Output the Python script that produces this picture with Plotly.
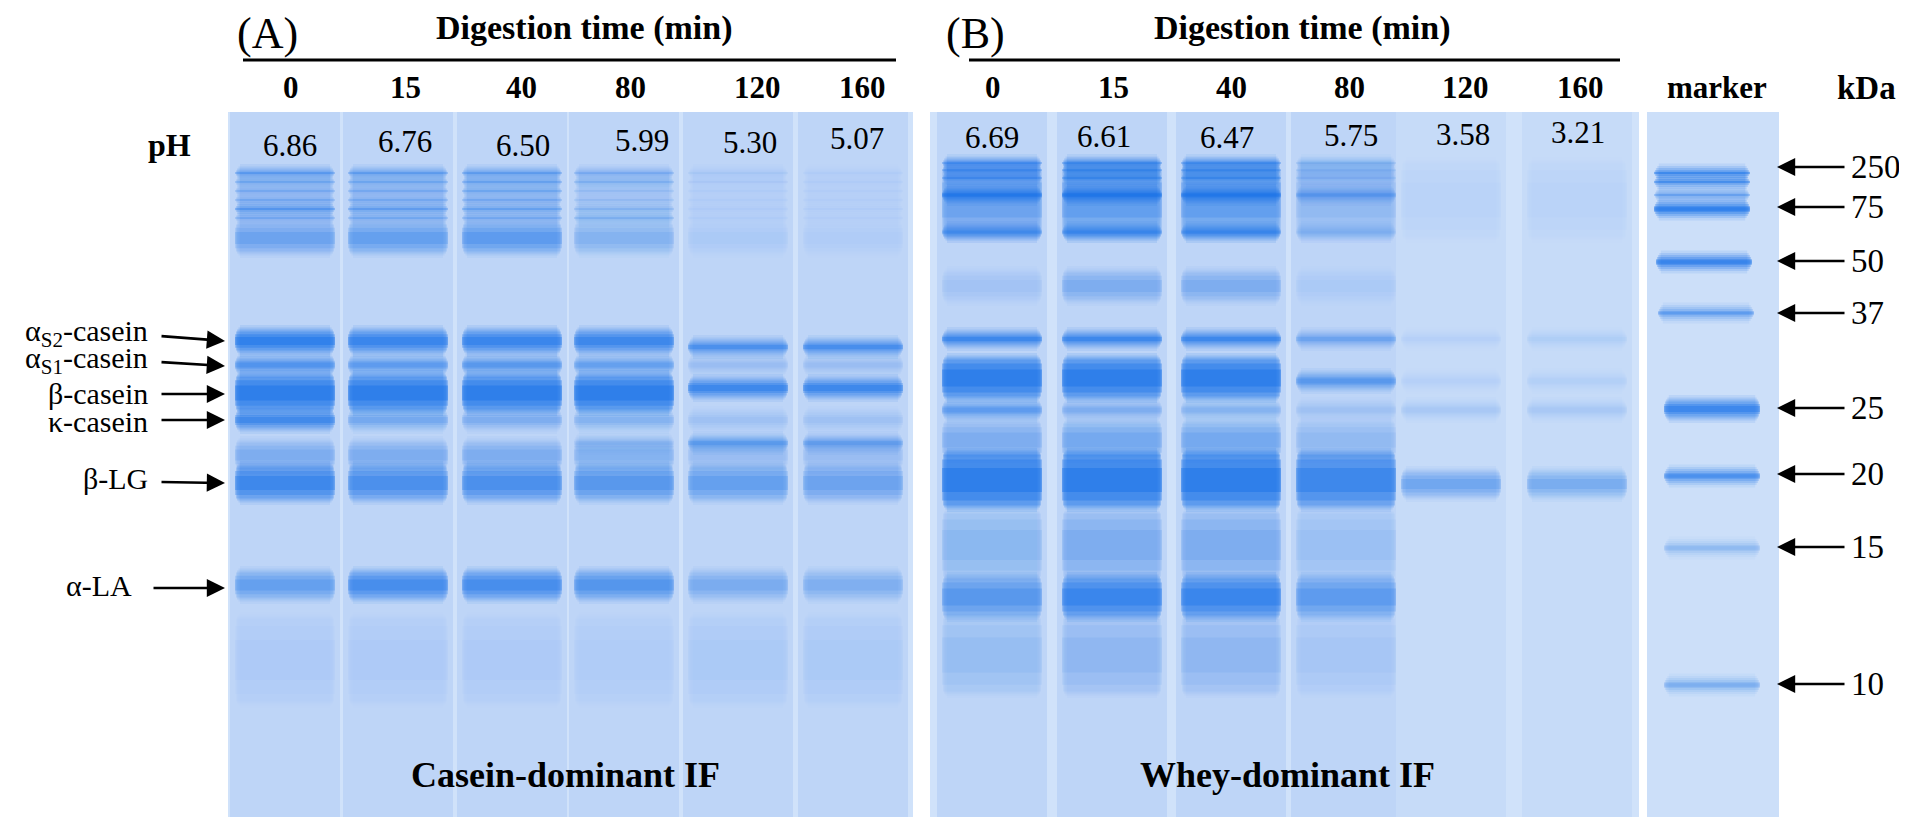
import plotly.graph_objects as go

# ---- labels ----
time_labels = ["0", "15", "40", "80", "120", "160"]
ph_a = ["6.86", "6.76", "6.50", "5.99", "5.30", "5.07"]
ph_b = ["6.69", "6.61", "6.47", "5.75", "3.58", "3.21"]
protein_labels = ["α<sub>S2</sub>-casein", "α<sub>S1</sub>-casein", "β-casein",
                  "κ-casein", "β-LG", "α-LA"]
protein_y = [341, 366, 394, 420, 483, 588]
marker_kda = ["250", "75", "50", "37", "25", "20", "15", "10"]
marker_kda_y = [167, 207, 261, 313, 408, 474, 547, 684]

# ---- lanes (centre, px) ----
lane_a = [285, 398, 512, 624, 738, 853]
lane_b = [992, 1112, 1231, 1346, 1451, 1577]

# ---- gel A bands: migration, breadth, stain per lane (0 ... 160 min) ----
band_a_y = [173, 182, 191, 200, 209, 218, 238, 341, 347, 365, 393, 388,
            420, 443, 455, 483, 585, 660]
band_a_h = [2, 2, 2, 2, 3, 2, 24, 16, 8, 10, 30, 12, 12, 8, 22, 28, 22, 80]
band_a_int = [
    [0.65, 0.60, 0.60, 0.40, 0.10, 0.05],
    [0.45, 0.45, 0.50, 0.35, 0.08, 0.05],
    [0.40, 0.40, 0.45, 0.20, 0.05, 0.04],
    [0.40, 0.40, 0.40, 0.20, 0.05, 0.04],
    [0.60, 0.50, 0.45, 0.25, 0.05, 0.04],
    [0.40, 0.40, 0.40, 0.35, 0.05, 0.04],
    [0.40, 0.45, 0.50, 0.25, 0.06, 0.04],
    [0.95, 0.85, 0.85, 0.80, 0.00, 0.00],
    [0.00, 0.00, 0.00, 0.00, 0.65, 0.70],
    [0.60, 0.50, 0.55, 0.45, 0.15, 0.15],
    [1.00, 1.00, 1.00, 1.00, 0.00, 0.00],
    [0.00, 0.00, 0.00, 0.00, 0.80, 0.80],
    [0.75, 0.35, 0.30, 0.25, 0.12, 0.12],
    [0.00, 0.00, 0.00, 0.15, 0.45, 0.40],
    [0.30, 0.30, 0.30, 0.25, 0.15, 0.15],
    [0.80, 0.65, 0.65, 0.55, 0.45, 0.40],
    [0.45, 0.70, 0.70, 0.58, 0.32, 0.28],
    [0.05, 0.05, 0.05, 0.04, 0.06, 0.06],
]

# ---- gel B bands ----
band_b_y = [163, 170, 178, 195, 200, 232, 286, 339, 378, 381, 410,
            440, 480, 484, 545, 597, 655]
band_b_h = [2, 2, 2, 6, 70, 6, 24, 8, 34, 10, 10, 30, 48, 20, 60, 34, 70]
band_b_int = [
    [0.70, 0.75, 0.70, 0.25, 0.00, 0.00],
    [0.60, 0.65, 0.60, 0.20, 0.00, 0.00],
    [0.60, 0.65, 0.60, 0.20, 0.00, 0.00],
    [0.85, 0.90, 0.85, 0.40, 0.00, 0.00],
    [0.40, 0.48, 0.48, 0.18, 0.03, 0.03],
    [0.60, 0.65, 0.65, 0.20, 0.00, 0.00],
    [0.10, 0.30, 0.30, 0.06, 0.00, 0.00],
    [0.80, 0.80, 0.80, 0.40, 0.05, 0.07],
    [1.00, 1.00, 1.00, 0.00, 0.00, 0.00],
    [0.00, 0.00, 0.00, 0.55, 0.05, 0.06],
    [0.50, 0.30, 0.25, 0.12, 0.10, 0.10],
    [0.30, 0.35, 0.35, 0.18, 0.00, 0.00],
    [1.00, 1.00, 1.00, 0.80, 0.00, 0.00],
    [0.00, 0.00, 0.00, 0.00, 0.40, 0.35],
    [0.22, 0.30, 0.30, 0.14, 0.00, 0.00],
    [0.55, 0.85, 0.85, 0.50, 0.00, 0.00],
    [0.16, 0.20, 0.20, 0.08, 0.00, 0.00],
]

# ---- marker lane ----
marker_y = [173, 182, 195, 209, 262, 313, 409, 476, 548, 685]
marker_h = [3, 3, 2, 7, 7, 5, 12, 7, 7, 7]
marker_int = [0.85, 0.75, 0.60, 1.00, 0.90, 0.55, 0.85, 0.70, 0.25, 0.35]
marker_c = [1702, 1702, 1702, 1702, 1704, 1706, 1712, 1712, 1712, 1712]

SERIF = "Liberation Serif, Times New Roman, serif"
BAND = "14,108,232"
LANE_W = 100
# the page has an 8 px body margin: keep 1 data unit = 1 screen pixel
OFF = 8

fig = go.Figure()

# (scale of breadth, extra px, opacity share, length share)
LAYERS = ((1.0, 16, 0.10, 0.90), (1.0, 11, 0.15, 0.93), (1.0, 7, 0.20, 0.96),
          (1.0, 3, 0.26, 0.98), (0.85, 0, 0.32, 1.0), (0.5, 0, 0.38, 1.0))


def band(xc, w, y, h, a):
    # soft band: stacked strokes, wide and faint to narrow and dense
    for c, e, f, s in LAYERS:
        fig.add_trace(go.Scatter(
            x=[xc - w * s / 2, xc + w * s / 2], y=[y, y], mode="lines",
            line=dict(color=f"rgba({BAND},{a * f:.3f})", width=max(h * c + e, 1)),
            hoverinfo="skip", showlegend=False))


shapes = []
for x0, x1 in ((228, 913), (930, 1639)):
    shapes.append(dict(type="rect", xref="x", yref="y", x0=x0, x1=x1, y0=112, y1=821,
                       fillcolor="rgb(208,226,250)", line_width=0, layer="below"))
shapes.append(dict(type="rect", xref="x", yref="y", x0=1647, x1=1779, y0=112, y1=821,
                   fillcolor="rgb(204,223,249)", line_width=0, layer="below"))
lane_tint = ["rgb(190,213,247)"] * 10 + ["rgb(198,219,248)"] * 2
for xc, tint in zip(lane_a + lane_b, lane_tint):
    lo, hi = (228, 913) if xc < 920 else (930, 1639)
    shapes.append(dict(type="rect", xref="x", yref="y",
                       x0=max(xc - 55, lo), x1=min(xc + 55, hi), y0=112, y1=821,
                       fillcolor=tint, line_width=0, layer="below"))

for row, y in enumerate(band_a_y):
    for i, xc in enumerate(lane_a):
        if band_a_int[row][i] > 0:
            band(xc, LANE_W, y, band_a_h[row], band_a_int[row][i])
for row, y in enumerate(band_b_y):
    for i, xc in enumerate(lane_b):
        if band_b_int[row][i] > 0:
            band(xc, LANE_W, y, band_b_h[row], band_b_int[row][i])
for y, h, a, xc in zip(marker_y, marker_h, marker_int, marker_c):
    band(xc, 96, y, h, a)

shapes.append(dict(type="line", xref="x", yref="y", x0=243, x1=896, y0=60, y1=60,
                   line=dict(color="black", width=3)))
shapes.append(dict(type="line", xref="x", yref="y", x0=969, x1=1620, y0=60, y1=60,
                   line=dict(color="black", width=3)))

ann = []


def txt(x, y, s, size, bold=False, xanchor="center"):
    ann.append(dict(x=x, y=y, xref="x", yref="y", text=f"<b>{s}</b>" if bold else s,
                    showarrow=False, xanchor=xanchor, yanchor="middle",
                    font=dict(family=SERIF, size=size, color="black")))


txt(267, 33, "(A)", 44)
txt(975, 33, "(B)", 44)
txt(584, 28, "Digestion time (min)", 34, bold=True)
txt(1302, 28, "Digestion time (min)", 34, bold=True)

time_x_a = [291, 405, 521, 630, 757, 862]
time_x_b = [993, 1113, 1231, 1349, 1465, 1580]
for x, s in zip(time_x_a, time_labels):
    txt(x, 87, s, 31, bold=True)
for x, s in zip(time_x_b, time_labels):
    txt(x, 87, s, 31, bold=True)
txt(1717, 87, "marker", 31, bold=True)
txt(1866, 88, "kDa", 33, bold=True)

txt(169, 145, "pH", 32, bold=True)
ph_x_a = [290, 405, 523, 642, 750, 857]
ph_y_a = [145, 141, 145, 140, 142, 138]
ph_x_b = [992, 1104, 1227, 1351, 1463, 1578]
ph_y_b = [137, 136, 137, 135, 134, 132]
for x, y, s in zip(ph_x_a, ph_y_a, ph_a):
    txt(x, y, s, 31)
for x, y, s in zip(ph_x_b, ph_y_b, ph_b):
    txt(x, y, s, 31)

txt(565, 775, "Casein-dominant IF", 36, bold=True)
txt(1287, 775, "Whey-dominant IF", 36, bold=True)

label_right = [150, 150, 150, 150, 150, 134]
label_y = [336, 363, 396, 424, 481, 588]
tail_x = [160, 160, 160, 160, 160, 152]
tail_dy = [-5, -4, 0, 0, -1, 0]
for s, y, ly, xr, tx, dy in zip(protein_labels, protein_y, label_y, label_right, tail_x, tail_dy):
    txt(xr, ly - 3, s, 30, xanchor="right")
    ann.append(dict(x=225, y=y, ax=tx, ay=y + dy, xref="x", yref="y", axref="x", ayref="y",
                    text="", showarrow=True, arrowhead=2, arrowsize=1.4, arrowwidth=2.6,
                    arrowcolor="black"))

for s, y in zip(marker_kda, marker_kda_y):
    txt(1849, y, s, 33, xanchor="left")
    ann.append(dict(x=1777, y=y, ax=1846, ay=y, xref="x", yref="y", axref="x", ayref="y",
                    text="", showarrow=True, arrowhead=2, arrowsize=1.4, arrowwidth=2.6,
                    arrowcolor="black"))

fig.update_layout(
    width=1907 - 2 * OFF, height=825 - 2 * OFF,
    margin=dict(l=0, r=0, t=0, b=0),
    paper_bgcolor="white", plot_bgcolor="white",
    xaxis=dict(range=[OFF, 1907 - OFF], visible=False, fixedrange=True),
    yaxis=dict(range=[825 - OFF, OFF], visible=False, fixedrange=True),
    shapes=shapes, annotations=ann, showlegend=False,
)

fig.write_html("out.html")
